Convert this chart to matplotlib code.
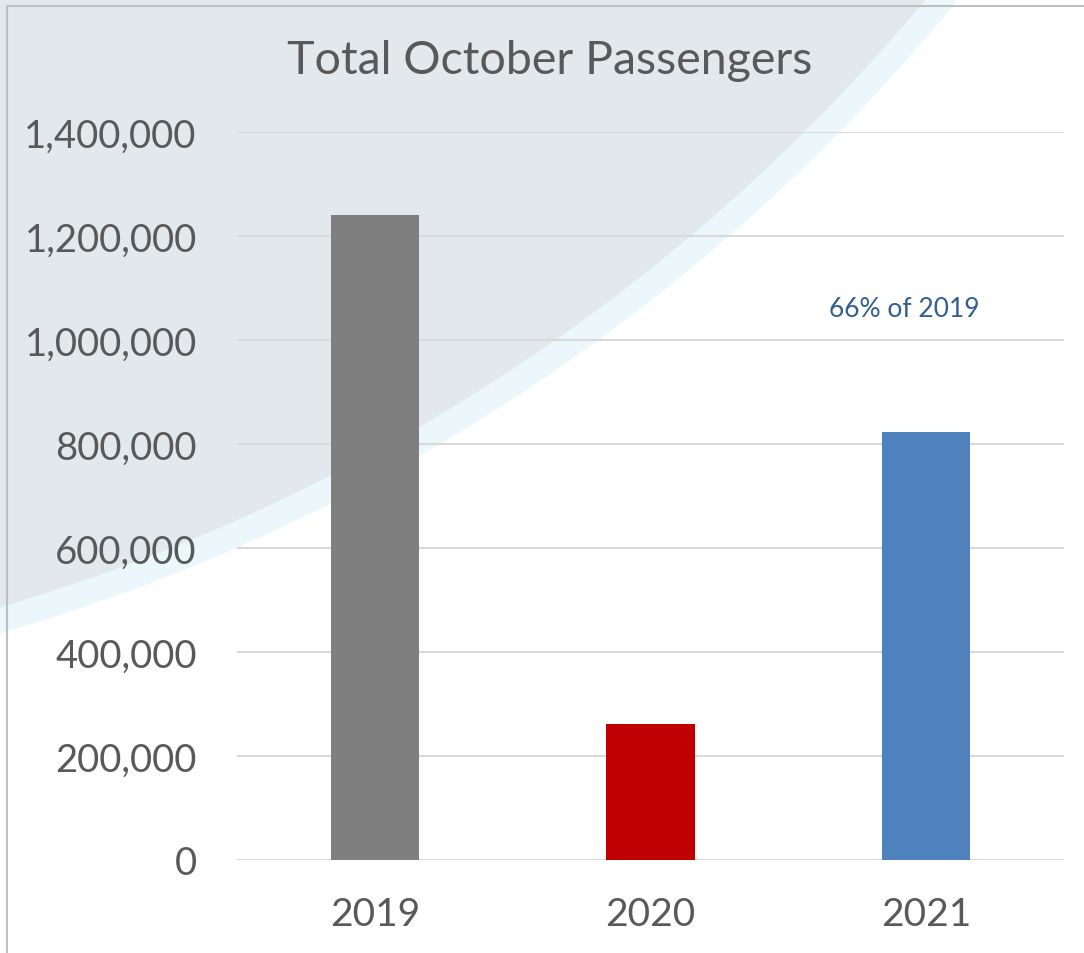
import matplotlib.pyplot as plt
import numpy as np
from matplotlib.patches import Circle, Rectangle
from matplotlib.ticker import FuncFormatter

# data
years = ["2019", "2020", "2021"]
passengers = [1240000, 262000, 823000]
bar_colors = ["#7F7F7F", "#C00000", "#4F81BD"]
title = "Total October Passengers"
note = "66% of 2019"

W, H = 1084, 954
plt.rcParams['font.family'] = ['Lato', 'DejaVu Sans']
fig = plt.figure(figsize=(W / 100, H / 100), dpi=100)
fig.patch.set_facecolor("white")

# background decoration (pixel coords)
bg = fig.add_axes([0, 0, 1, 1], zorder=0)
bg.set_xlim(0, W)
bg.set_ylim(H, 0)
bg.axis("off")
bg.add_patch(Circle((-536.5, -1217.5), 1928, facecolor="#EBF7FB", edgecolor="none"))
bg.add_patch(Circle((-536.5, -1217.5), 1903, facecolor="#E3E8EC", edgecolor="none"))
bg.plot([7, W], [7, 7], color="#BFBFBF", lw=1.5)
bg.plot([7, 7], [7, H], color="#BFBFBF", lw=1.5)

# chart
ax = fig.add_axes([237 / W, 93 / H, 827 / W, 728 / H], zorder=1)
ax.set_facecolor("none")
x = np.arange(len(years))
ax.bar(x, passengers, width=0.32, color=bar_colors, zorder=3)
ax.set_xlim(-0.5, 2.5)
ax.set_ylim(0, 1400000)
ax.set_yticks(np.arange(0, 1400001, 200000))
ax.yaxis.set_major_formatter(FuncFormatter(lambda v, p: f"{int(v):,}"))
ax.set_xticks(x)
ax.set_xticklabels(years)
ax.grid(axis="y", color="#D9D9D9", lw=1.5, zorder=0)
for s in ax.spines.values():
    s.set_visible(False)
ax.tick_params(axis="y", length=0, pad=29, labelsize=27.5, labelcolor="#595959")
ax.tick_params(axis="x", length=0, pad=26, labelsize=28, labelcolor="#595959")

ax.text(1.92, 1061000, note, ha="center", va="center", fontsize=19, color="#335E91")

fig.text(550 / W, 1 - 61 / H, title, ha="center", va="center", fontsize=33.5, color="#595959")

fig.savefig("out.png", dpi=100)
